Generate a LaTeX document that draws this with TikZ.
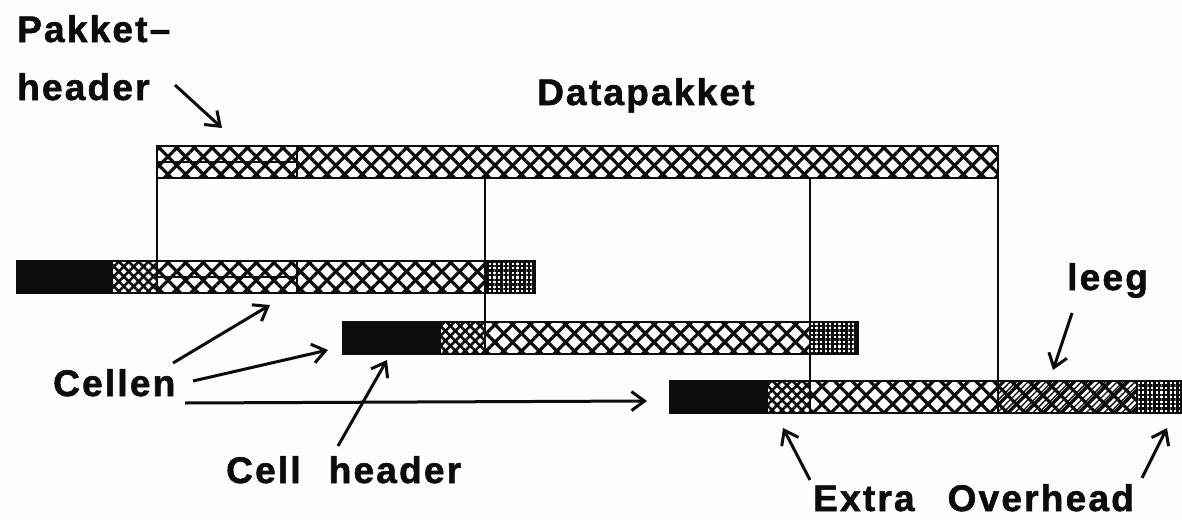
\documentclass[tikz,border=0pt]{standalone}
\usepackage{fontspec}
\setmainfont{Liberation Sans}[LetterSpace=6, BoldFeatures={FakeBold=1.5}]
\usetikzlibrary{patterns.meta,arrows.meta}
\definecolor{bgc}{RGB}{253,253,251}
\definecolor{ink}{RGB}{12,12,12}
\tikzset{
  seg/.style={draw=ink, line width=2.6pt, outer sep=0pt, inner sep=0pt, minimum height=32pt, anchor=north west},
  blk/.style={seg, fill=ink},
  datap/.style={seg,
    preaction={pattern={Lines[angle=45,distance=12.5pt,line width=3.2pt]}, pattern color=ink},
    pattern={Lines[angle=-45,distance=12.5pt,line width=3.2pt]}, pattern color=ink},
  hdrp/.style={datap, path picture={\draw[ink, line width=1.8pt] (path picture bounding box.west) -- (path picture bounding box.east);}},
  smallp/.style={seg,
    preaction={pattern={Lines[angle=45,distance=7pt,line width=2.6pt]}, pattern color=ink},
    pattern={Lines[angle=-45,distance=7pt,line width=2.6pt]}, pattern color=ink},
  densep/.style={seg,
    preaction={pattern={Lines[angle=0,distance=4.6pt,line width=2.5pt]}, pattern color=ink},
    pattern={Lines[angle=90,distance=4.6pt,line width=2.5pt]}, pattern color=ink},
  leegp/.style={seg,
    preaction={pattern={Lines[angle=-45,distance=12.5pt,line width=3.2pt]}, pattern color=ink,
      preaction={pattern={Lines[angle=45,distance=12.5pt,line width=3.2pt]}, pattern color=ink}},
    pattern={Lines[angle=45,distance=4.2pt,line width=1.3pt]}, pattern color=ink},
  lbl/.style={anchor=base west, inner sep=0pt, text=ink, font=\fontsize{37}{40}\selectfont\bfseries},
  vline/.style={draw=ink, line width=2.5pt},
  arr/.style={draw=ink, line width=3pt, -{Straight Barb[length=13pt,width=19pt]}},
}
\begin{document}
\begin{tikzpicture}[x=1pt,y=-1pt]
\fill[bgc] (0,0) rectangle (1182,519);
\useasboundingbox (0,0) rectangle (1182,519);

% labels
\node[lbl] (pk) at (17,42) {Pakket–};
\node[lbl] (hd) at (17,100) {header};
\node[lbl] (dp) at (537,105) {Datapakket};
\node[lbl] (lg) at (1067,290) {leeg};
\node[lbl] (cel) at (53,396) {Cellen};
\node[lbl] (ch) at (226,483) {Cell\hspace{28pt}header};
\node[lbl] (eo) at (813,511) {Extra\hspace{33pt}Overhead};

% bars
\node[datap, minimum width=701pt] (td) at (297,146) {};
\node[hdrp, minimum width=140pt] (th) at (157,146) {};

\node[blk, minimum width=95pt] (r1b) at (17,261) {};
\node[smallp, minimum width=45pt] (r1s) at (112,261) {};
\node[hdrp, minimum width=140pt] (r1h) at (157,261) {};
\node[datap, minimum width=188pt] (r1d) at (297,261) {};
\node[densep, minimum width=50pt] (r1o) at (485,261) {};

\node[blk, minimum width=97pt] (r2b) at (343,322) {};
\node[smallp, minimum width=45pt] (r2s) at (440,322) {};
\node[datap, minimum width=325pt] (r2d) at (485,322) {};
\node[densep, minimum width=48pt] (r2o) at (810,322) {};

\node[blk, minimum width=97pt] (r3b) at (670,381) {};
\node[smallp, minimum width=43pt] (r3s) at (767,381) {};
\node[datap, minimum width=188pt] (r3d) at (810,381) {};
\node[leegp, minimum width=139pt] (r3l) at (998,381) {};
\node[densep, minimum width=44pt] (r3o) at (1137,381) {};

% vertical connectors
\draw[vline] (th.south west) -- (r1h.north west);
\draw[vline] (td.south -| r2d.north west) -- (r2d.north west);
\draw[vline] (td.south -| r3d.north west) -- (r3d.north west);
\draw[vline] (td.south east) -- (r3l.north west);

% arrow end points
\coordinate (a1s) at (175,85);   \coordinate (a1e) at (222,128);
\coordinate (a2s) at (173,363);  \coordinate (a2e) at (270,305);
\coordinate (a3s) at (193,381);  \coordinate (a3e) at (328,350);
\coordinate (a4s) at (185,403);  \coordinate (a4e) at (647,401);
\coordinate (a5s) at (338,446);  \coordinate (a5e) at (387,360);
\coordinate (a6s) at (1072,313); \coordinate (a6e) at (1053,370);
\coordinate (a7s) at (810,480);  \coordinate (a7e) at (783,428);
\coordinate (a8s) at (1142,478); \coordinate (a8e) at (1167,428);

\draw[arr] (a1s) -- (a1e);
\draw[arr] (a2s) -- (a2e);
\draw[arr] (a3s) -- (a3e);
\draw[arr] (a4s) -- (a4e);
\draw[arr] (a5s) -- (a5e);
\draw[arr] (a6s) -- (a6e);
\draw[arr] (a7s) -- (a7e);
\draw[arr] (a8s) -- (a8e);
\end{tikzpicture}
\end{document}
